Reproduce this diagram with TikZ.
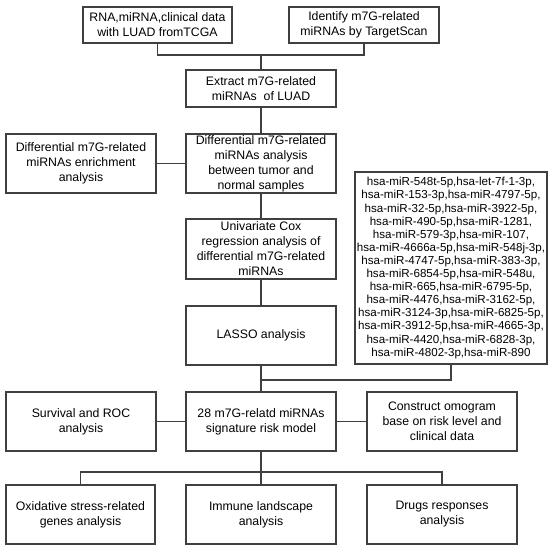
\documentclass[tikz,border=0pt]{standalone}
\usepackage{fontspec}
\setmainfont{Liberation Sans}

\tikzset{
  kasten/.style={draw=black!75, line width=1.1pt, align=center, inner sep=0pt,
    minimum width=150pt, font=\fontsize{12.3}{15}\selectfont},
  linie/.style={draw=black!75, line width=1.1pt},
}

\begin{document}
\begin{tikzpicture}[x=1pt, y=-1pt]

\useasboundingbox (0,0) rectangle (550,550);

% Spalten und Hoehen
\def \xL {81}
\def \xM {261}
\def \xR {442}
\def \hA {59}

% Knotenpunkte der Verbindungen
\coordinate (topjoin) at (\xM,55);
\coordinate (listjoin) at (\xM,380);
\coordinate (botjoin) at (\xM,472);

% Kaesten oben
\node[kasten, minimum width=149pt, minimum height=36pt] (data) at (157.5,25) {RNA,miRNA,clinical data\\with LUAD fromTCGA};
\node[kasten, minimum height=36pt] (tscan) at (364,25) {Identify m7G-related\\miRNAs by TargetScan};
\node[kasten, minimum height=37pt] (extract) at (\xM,88.5) {Extract m7G-related\\miRNAs~ of LUAD};

% Hauptspalte
\node[kasten, minimum height=\hA pt] (diff) at (\xM,163.5) {Differential m7G-related\\miRNAs analysis\\between tumor and\\normal samples};
\node[kasten, minimum height=\hA pt] (enrich) at (\xL,163.5) {Differential m7G-related\\miRNAs enrichment\\analysis};
\node[kasten, minimum height=60pt] (cox) at (\xM,249) {Univariate Cox\\regression analysis of\\differential m7G-related\\miRNAs};
\node[kasten, minimum height=\hA pt] (lasso) at (\xM,335.5) {LASSO analysis};

% Liste der miRNAs
\node[kasten, minimum width=192pt, minimum height=192pt, font=\fontsize{11.6}{13.1}\selectfont] (mirlist) at (451,268) {hsa-miR-548t-5p,hsa-let-7f-1-3p,\\hsa-miR-153-3p,hsa-miR-4797-5p,\\hsa-miR-32-5p,hsa-miR-3922-5p,\\hsa-miR-490-5p,hsa-miR-1281,\\hsa-miR-579-3p,hsa-miR-107,\\hsa-miR-4666a-5p,hsa-miR-548j-3p,\\hsa-miR-4747-5p,hsa-miR-383-3p,\\hsa-miR-6854-5p,hsa-miR-548u,\\hsa-miR-665,hsa-miR-6795-5p,\\hsa-miR-4476,hsa-miR-3162-5p,\\hsa-miR-3124-3p,hsa-miR-6825-5p,\\hsa-miR-3912-5p,hsa-miR-4665-3p,\\hsa-miR-4420,hsa-miR-6828-3p,\\hsa-miR-4802-3p,hsa-miR-890};

% Modell und Auswertungen
\node[kasten, minimum height=\hA pt] (risk) at (\xM,421.5) {28 m7G-relatd miRNAs\\signature risk model};
\node[kasten, minimum height=\hA pt] (surv) at (\xL,421.5) {Survival and ROC\\analysis};
\node[kasten, minimum height=\hA pt] (nomo) at (\xR,421.5) {Construct omogram\\base on risk level and\\clinical data};
\node[kasten, minimum width=149pt, minimum height=\hA pt] (oxi) at (80.5,514.5) {Oxidative stress-related\\genes analysis};
\node[kasten, minimum height=\hA pt] (immune) at (\xM,514.5) {Immune landscape\\analysis};
\node[kasten, minimum height=\hA pt] (drugs) at (\xR,514.5) {Drugs responses\\analysis};

% Verbindungen
\draw[linie] (data.south) |- (topjoin) -| (tscan.south);
\draw[linie] (topjoin) -- (extract.north);
\draw[linie] (extract.south) -- (diff.north);
\draw[linie] (enrich.east) -- (diff.west);
\draw[linie] (diff.south) -- (cox.north);
\draw[linie] (cox.south) -- (lasso.north);
\draw[linie] (lasso.south) -- (risk.north);
\draw[linie] (mirlist.south) |- (listjoin);
\draw[linie] (surv.east) -- (risk.west);
\draw[linie] (risk.east) -- (nomo.west);
\draw[linie] (risk.south) -- (botjoin);
\draw[linie] (oxi.north) |- (botjoin) -| (drugs.north);
\draw[linie] (botjoin) -- (immune.north);

\end{tikzpicture}
\end{document}
